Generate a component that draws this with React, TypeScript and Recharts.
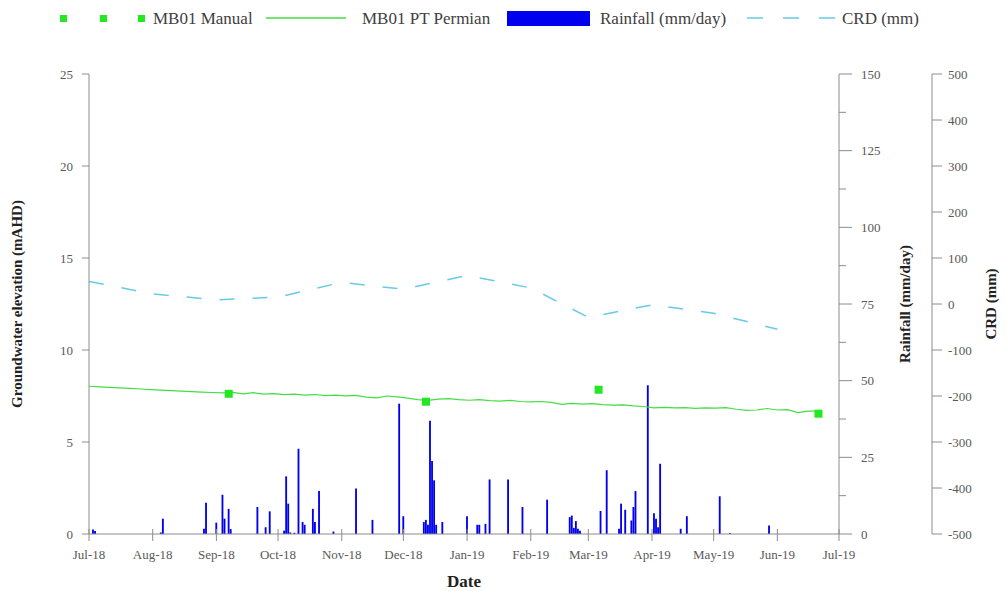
import { ComposedChart, Line, Bar, XAxis, YAxis } from "recharts";

const FONT = '"Liberation Serif", "Times New Roman", serif';
const AXIS = "#8c8c8c";
const TICK_TEXT = "#595959";

// month ticks along the date axis
const monthTicks = [
  "2018-07-01", "2018-08-01", "2018-09-01", "2018-10-01", "2018-11-01", "2018-12-01",
  "2019-01-01", "2019-02-01", "2019-03-01", "2019-04-01", "2019-05-01", "2019-06-01", "2019-07-01",
];
const monthLabels = [
  "Jul-18", "Aug-18", "Sep-18", "Oct-18", "Nov-18", "Dec-18",
  "Jan-19", "Feb-19", "Mar-19", "Apr-19", "May-19", "Jun-19", "Jul-19",
];

// daily rainfall (mm/day)
const rainDates = [
  "2018-07-03", "2018-07-04", "2018-08-05", "2018-08-06", "2018-08-26", "2018-08-27",
  "2018-09-01", "2018-09-04", "2018-09-05", "2018-09-07", "2018-09-08", "2018-09-21",
  "2018-09-25", "2018-09-27", "2018-10-04", "2018-10-05", "2018-10-06", "2018-10-07",
  "2018-10-09", "2018-10-11", "2018-10-13", "2018-10-14", "2018-10-18", "2018-10-19",
  "2018-10-21", "2018-10-28", "2018-11-08", "2018-11-16", "2018-11-29", "2018-12-01",
  "2018-12-11", "2018-12-12", "2018-12-13", "2018-12-14", "2018-12-15", "2018-12-16",
  "2018-12-17", "2018-12-20", "2019-01-01", "2019-01-06", "2019-01-07", "2019-01-10",
  "2019-01-12", "2019-01-21", "2019-01-28", "2019-02-09", "2019-02-20", "2019-02-21",
  "2019-02-22", "2019-02-23", "2019-02-24", "2019-02-25", "2019-03-07", "2019-03-10",
  "2019-03-16", "2019-03-17", "2019-03-19", "2019-03-22", "2019-03-23", "2019-03-24",
  "2019-03-30", "2019-04-02", "2019-04-03", "2019-04-04", "2019-04-05", "2019-04-15",
  "2019-04-18", "2019-05-04", "2019-05-09", "2019-05-28",
];
const rainMm = [
  1.5, 1.0, 0.5, 5.0, 1.7, 10.2,
  3.7, 12.8, 5.0, 8.2, 1.6, 8.8,
  2.2, 7.4, 1.1, 18.8, 9.9, 0.5,
  0.4, 27.8, 3.9, 3.0, 8.2, 3.9,
  14.0, 0.8, 14.8, 4.6, 42.5, 5.8,
  3.9, 4.6, 3.0, 36.9, 23.8, 17.5,
  3.0, 3.9, 5.8, 3.0, 3.0, 3.3,
  17.8, 17.8, 8.8, 11.2, 5.5, 6.0,
  2.0, 4.2, 1.7, 1.1, 7.5, 20.8,
  1.7, 9.9, 7.9, 4.4, 8.8, 14.0,
  48.5, 6.8, 5.0, 2.2, 22.9, 1.7,
  5.8, 12.3, 0.3, 2.8,
];

// manual dips (mAHD)
const manualDates = ["2018-09-07", "2018-12-12", "2019-03-06", "2019-06-21"];
const manualLevels = [7.62, 7.19, 7.84, 6.54];

// pressure transducer, days after 1 Jul 2018 (mAHD)
const loggerDays = [
  0, 5, 10, 15, 20, 25, 30, 35, 40, 45, 50, 55, 60, 65, 70, 75, 80, 85,
  90, 95, 100, 105, 110, 115, 120, 125, 130, 135, 140, 145, 150, 155, 160, 165,
  170, 175, 180, 185, 190, 195, 200, 205, 210, 215, 220, 225, 230, 235, 240, 245,
  250, 255, 260, 265, 270, 275, 280, 285, 290, 295, 300, 305, 310, 315, 320, 325,
  330, 335, 340, 345, 350, 355,
];
const loggerLevels = [
  8.03, 8.0, 7.97, 7.94, 7.91, 7.88, 7.85, 7.82, 7.79, 7.76, 7.74, 7.71, 7.69, 7.67, 7.7, 7.62, 7.68, 7.6,
  7.63, 7.57, 7.6, 7.55, 7.58, 7.52, 7.55, 7.51, 7.53, 7.44, 7.4, 7.5, 7.45, 7.38, 7.3, 7.26,
  7.33, 7.36, 7.3, 7.27, 7.3, 7.25, 7.22, 7.26, 7.2, 7.18, 7.2, 7.15, 7.05, 7.1, 7.06, 7.09,
  7.03, 7.0, 7.02, 6.96, 6.93, 6.85, 6.88, 6.85, 6.87, 6.83, 6.86, 6.84, 6.87, 6.78, 6.72, 6.74,
  6.82, 6.74, 6.76, 6.6, 6.68, 6.69,
];

// cumulative rainfall departure (mm)
const crdDates = [
  "2018-07-01", "2018-08-01", "2018-09-01", "2018-10-01", "2018-11-01", "2018-12-01",
  "2019-01-01", "2019-02-01", "2019-03-01", "2019-04-01", "2019-05-01", "2019-06-01",
];
const crdMm = [49, 22, 9, 15, 47, 32, 62, 35, -29, -2, -20, -55];

const DAY = 86400000;
const ts = (d: string) => Date.parse(d);
const START = ts("2018-07-01");
const END = ts("2019-07-01");

type Row = { t: number; level?: number; manual?: number; rain?: number; crd?: number };

function buildRows(): Row[] {
  const map = new Map<number, Row>();
  const get = (t: number) => {
    let r = map.get(t);
    if (!r) {
      r = { t };
      map.set(t, r);
    }
    return r;
  };
  loggerDays.forEach((d, i) => (get(START + d * DAY).level = loggerLevels[i]));
  manualDates.forEach((d, i) => (get(ts(d)).manual = manualLevels[i]));
  rainDates.forEach((d, i) => (get(ts(d)).rain = rainMm[i]));
  crdDates.forEach((d, i) => (get(ts(d)).crd = crdMm[i]));
  return [...map.values()].sort((a, b) => a.t - b.t);
}

const rows = buildRows();

function XTick({ x, y, index }: any) {
  return (
    <g>
      <line x1={x} x2={x} y1={y - 5} y2={y + 7} stroke={AXIS} />
      <text x={x} y={y + 25} textAnchor="middle" fontFamily={FONT} fontSize={13} fill={TICK_TEXT}>
        {monthLabels[index]}
      </text>
    </g>
  );
}

function LevelTick({ x, y, payload }: any) {
  return (
    <g>
      <line x1={x - 7} x2={x} y1={y} y2={y} stroke={AXIS} />
      <text x={x - 16} y={y + 4.5} textAnchor="end" fontFamily={FONT} fontSize={13} fill={TICK_TEXT}>
        {payload.value}
      </text>
    </g>
  );
}

function RainTick({ x, y, payload }: any) {
  const major = payload.value % 25 === 0;
  return (
    <g>
      <line x1={x} x2={x + (major ? 13 : 7)} y1={y} y2={y} stroke={AXIS} />
      {major && (
        <text x={x + 22} y={y + 4.5} fontFamily={FONT} fontSize={13} fill={TICK_TEXT}>
          {payload.value}
        </text>
      )}
    </g>
  );
}

function CrdTick({ x, y, payload }: any) {
  return (
    <g>
      <line x1={x} x2={x + 10} y1={y} y2={y} stroke={AXIS} />
      <text x={x + 16} y={y + 4.5} fontFamily={FONT} fontSize={13} fill={TICK_TEXT}>
        {payload.value}
      </text>
    </g>
  );
}

const ManualDot = ({ cx, cy }: any) =>
  cy == null || isNaN(cy) ? <g /> : <rect x={cx - 4} y={cy - 4} width={8} height={8} fill="#22e822" />;

const vTitle = (text: string, dx: number) => ({ viewBox }: any) => (
  <text
    transform={`translate(${viewBox.x + dx}, ${viewBox.y + viewBox.height / 2}) rotate(-90)`}
    textAnchor="middle"
    dominantBaseline="central"
    fontFamily={FONT}
    fontWeight={700}
    fontSize={15}
    fill="#222"
  >
    {text}
  </text>
);

function ChartLegend() {
  const txt = { fontFamily: FONT, fontSize: 17, fill: "#404040" };
  return (
    <svg width={1006} height={40} style={{ position: "absolute", left: 0, top: 0 }}>
      <rect x={60} y={15} width={7} height={7} fill="#22e822" />
      <rect x={100} y={15} width={7} height={7} fill="#22e822" />
      <rect x={138} y={15} width={7} height={7} fill="#22e822" />
      <text x={153} y={24} {...txt}>MB01 Manual</text>
      <line x1={266} x2={346} y1={18} y2={18} stroke="#45dd45" strokeWidth={1.3} />
      <text x={362} y={24} {...txt}>MB01 PT Permian</text>
      <rect x={507} y={11} width={83} height={15} fill="#0000ee" />
      <text x={600} y={24} {...txt}>Rainfall (mm/day)</text>
      <line x1={747} x2={835} y1={18} y2={18} stroke="#66cbe8" strokeWidth={1.5} strokeDasharray="16 20" />
      <text x={842} y={24} {...txt}>CRD (mm)</text>
    </svg>
  );
}

export default function App() {
  return (
    <div style={{ position: "relative", width: 1006, height: 591, background: "#fff" }}>
      <style>{"body{margin:0}"}</style>
      <ComposedChart width={1006} height={591} data={rows} margin={{ top: 74, right: 0, bottom: 0, left: 0 }}>
        <XAxis
          dataKey="t"
          type="number"
          domain={[START, END]}
          ticks={monthTicks.map(ts)}
          allowDataOverflow
          height={57}
          stroke={AXIS}
          tickLine={false}
          tickSize={0}
          tickMargin={0}
          tick={<XTick />}
          interval={0}
          label={{ value: "Date", position: "insideBottom", offset: 4, fontFamily: FONT, fontWeight: 700, fontSize: 17, fill: "#222" }}
        />
        <YAxis
          yAxisId="level"
          domain={[0, 25]}
          ticks={[0, 5, 10, 15, 20, 25]}
          width={89}
          stroke={AXIS}
          tickLine={false}
          tickSize={0}
          tickMargin={0}
          tick={<LevelTick />}
          interval={0}
          label={{ content: vTitle("Groundwater elevation (mAHD)", 17) }}
        />
        <YAxis
          yAxisId="r2"
          orientation="right"
          domain={[-500, 500]}
          ticks={[-500, -400, -300, -200, -100, 0, 100, 200, 300, 400, 500]}
          width={74}
          stroke={AXIS}
          tickLine={false}
          tickSize={0}
          tickMargin={0}
          tick={<CrdTick />}
          interval={0}
          label={{ content: vTitle("CRD (mm)", 59) }}
        />
        <YAxis
          yAxisId="r1"
          orientation="right"
          domain={[0, 150]}
          ticks={[0, 12.5, 25, 37.5, 50, 62.5, 75, 87.5, 100, 112.5, 125, 137.5, 150]}
          width={93}
          stroke={AXIS}
          tickLine={false}
          tickSize={0}
          tickMargin={0}
          tick={<RainTick />}
          interval={0}
          label={{ content: vTitle("Rainfall (mm/day)", 66) }}
        />
        <Line
          yAxisId="r2"
          dataKey="crd"
          stroke="#66cbe8"
          strokeWidth={1.5}
          strokeDasharray="15 18"
          dot={false}
          connectNulls
          isAnimationActive={false}
        />
        <Line
          yAxisId="level"
          dataKey="level"
          stroke="#45dd45"
          strokeWidth={1.2}
          dot={false}
          connectNulls
          isAnimationActive={false}
        />
        <Bar yAxisId="r1" dataKey="rain" fill="#0000ee" barSize={3} isAnimationActive={false} />
        <Line
          yAxisId="level"
          dataKey="manual"
          stroke="none"
          dot={<ManualDot />}
          activeDot={false}
          isAnimationActive={false}
        />
      </ComposedChart>
      <ChartLegend />
    </div>
  );
}
